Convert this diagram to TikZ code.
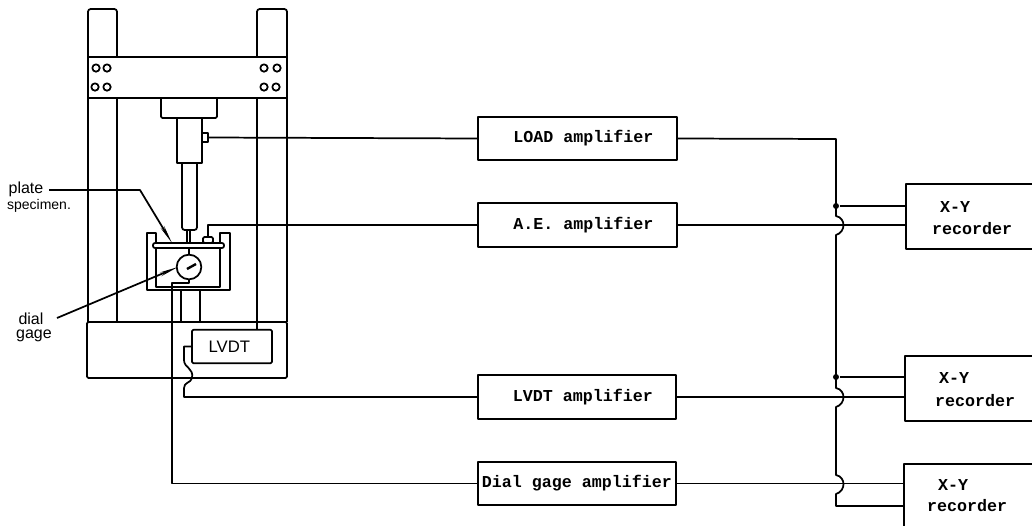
\documentclass[tikz,border=0pt]{standalone}
\usepackage{fontspec}
\setmonofont{Liberation Mono}
\newfontfamily\handfont{Liberation Sans}
\usetikzlibrary{arrows.meta}
\newcommand{\hop}[2]{-- (#1,#2-10) .. controls (#1+10,#2-8) and (#1+10,#2+6) .. (#1,#2+9)}
\tikzset{
  ampbox/.style={draw,minimum width=149pt,minimum height=32.5pt,inner sep=0pt,font=\ttfamily\bfseries\fontsize{12.5}{14}\selectfont},
  recbox/.style={draw,minimum width=105pt,minimum height=49pt,inner sep=0pt},
  rectext/.style={font=\ttfamily\bfseries\fontsize{12.5}{14}\selectfont,inner sep=0pt},
  handtext/.style={font=\handfont\fontsize{12}{13}\selectfont,inner sep=0pt},
  leader/.style={-{Stealth[length=14pt,width=3pt]}},
  jdot/.style={circle,fill,inner sep=0pt,minimum size=4.5pt},
}
\begin{document}
\begin{tikzpicture}[x=.75pt,y=-.75pt,line width=1.3pt,line join=round]
\clip (0,0) rectangle (1032,525);
\fill[white] (0,0) rectangle (1032,525);
\draw[rounded corners=2pt] (88,57)--(88,9)--(117,9)--(117,57) (257,57)--(257,9)--(287,9)--(287,57);
\draw (88,57) rectangle (287,98);
\draw (88,98)--(88,322) (117,98)--(117,322) (257,98)--(257,330) (287,98)--(287,322);
\draw[rounded corners=1pt] (87,322) rectangle (287,378);
\foreach \x/\y in {96/68,107/68,95/87,107/87,264/68,277/68,264/87,276/87} \draw (\x,\y) circle (3.7);
\draw[rounded corners=1pt] (161,98)--(161,118)--(217,118)--(217,98);
\draw (177,118) rectangle (202,163);
\draw[rounded corners=2pt] (182,163)--(182,230)--(197,230)--(197,163);
\draw (187,230)--(187,243) (190,230)--(190,243);
\draw (156,243)--(156,233)--(147,233)--(147,290)--(230,290)--(230,233)--(220,233)--(220,243);
\draw (156,248)--(156,287)--(220,287)--(220,248);
\draw[rounded corners=1.5pt] (153,243) rectangle (224,248);
\draw (181,290)--(181,322) (200,290)--(200,322);
\node[draw,circle,minimum size=18.5pt,inner sep=0pt] (dial) at (189,267) {};
\coordinate (dialtop) at (189,248); \coordinate (needle) at (187,269);
\draw (dial.north)--(dialtop);
\draw[line width=1.8pt] (needle)--(196,264);
\node[draw,minimum width=4pt,minimum height=6.5pt,inner sep=0pt] (loadcell) at (205,137.5) {};
\node[draw,rounded corners=1pt,minimum width=7.5pt,minimum height=4.5pt,inner sep=0pt] (aesensor) at (208,240) {};
\node[draw,rounded corners=1pt,minimum width=60pt,minimum height=25pt,inner sep=0pt,font=\handfont\fontsize{12.5}{14}\selectfont] (lvdt) at (232,346.5) {\hspace*{-4pt}LVDT};
\node[handtext] (plate) at (26,189) {plate};
\node[font=\handfont\fontsize{10.5}{11.5}\selectfont,inner sep=0pt] (specimen) at (39,206) {specimen.};
\node[handtext] (dialname) at (31,319) {dial};
\node[handtext] (gagename) at (34,336) {gage};
\draw[leader] (49,190)--(140,190)--(172,243);
\draw[leader] (57,318)--(178,267);
\node[ampbox] (loadamp) at (577.5,138.5) {\hspace*{9pt}LOAD amplifier};
\node[ampbox] (aeamp) at (577.5,225) {\hspace*{9pt}A.E. amplifier};
\node[ampbox] (lvdtamp) at (577,397) {\hspace*{9pt}LVDT amplifier};
\node[ampbox] (dialamp) at (577,483.5) {Dial gage amplifier};
\node[recbox] (recA) at (976,216.5) {};
\node[recbox] (recB) at (975,388.5) {};
\node[recbox] (recC) at (974,497) {};
\node[rectext] (xyA) at (955,207) {X-Y}; \node[rectext] (nameA) at (972,229) {recorder};
\node[rectext] (xyB) at (954,378) {X-Y}; \node[rectext] (nameB) at (975,401) {recorder};
\node[rectext] (xyC) at (953,485) {X-Y}; \node[rectext] (nameC) at (967,506) {recorder};
\draw (loadcell.east)--(loadamp.west);
\draw (aesensor.north) |- (aeamp.west);
\draw (dial.south)--(189,283)--(172,283) |- (dialamp.west);
\draw (lvdt.west)--(184,346.5)--(184,360) .. controls (184,368) and (194,368) .. (192,378) .. controls (191,383) and (184,382) .. (184,388) |- (lvdtamp.west);
\node[jdot] (jA) at (836,206) {}; \node[jdot] (jB) at (836,377) {};
\coordinate (busend) at (836,506);
\draw (loadamp.east)--(836,139) \hop{836}{226} \hop{836}{398} \hop{836}{485} -- (busend) -- (busend -| recC.west);
\draw (jA) -- (jA -| recA.west); \draw (aeamp.east) -- (aeamp.east -| recA.west);
\draw (jB) -- (jB -| recB.west); \draw (lvdtamp.east) -- (lvdtamp.east -| recB.west);
\draw (dialamp.east) -- (dialamp.east -| recC.west);
\end{tikzpicture}
\end{document}
